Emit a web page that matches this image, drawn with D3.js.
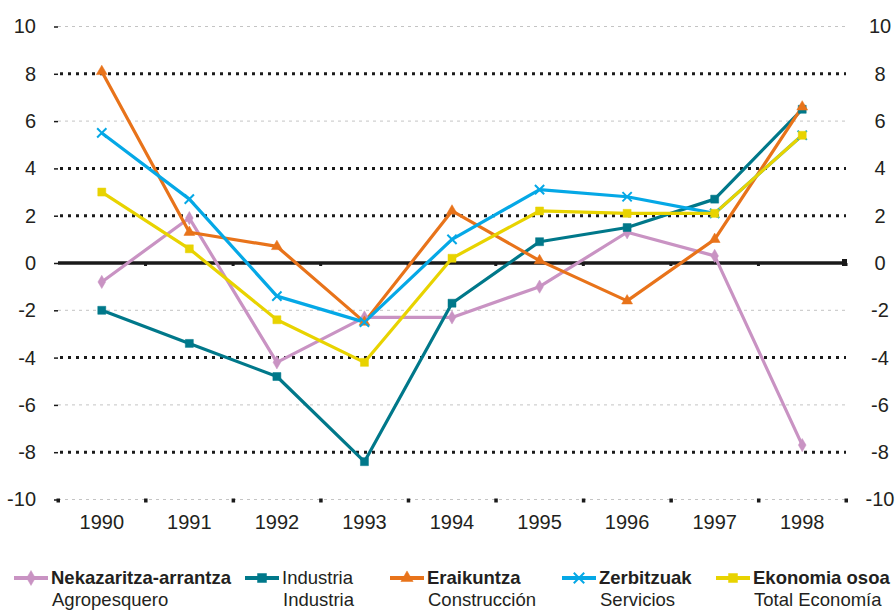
<!DOCTYPE html>
<html>
<head>
<meta charset="utf-8">
<script src="https://cdn.jsdelivr.net/npm/d3@7"></script>
<style>
  body { margin: 0; background: #fff; }
  svg { font-family: "Liberation Sans", Arial, sans-serif; }
</style>
</head>
<body>
<script>
const years = ["1990", "1991", "1992", "1993", "1994", "1995", "1996", "1997", "1998"];
const nekazaritza = [-0.8, 1.9, -4.2, -2.3, -2.3, -1.0, 1.3, 0.3, -7.7];
const industria = [-2.0, -3.4, -4.8, -8.4, -1.7, 0.9, 1.5, 2.7, 6.5];
const eraikuntza = [8.1, 1.3, 0.7, -2.5, 2.2, 0.1, -1.6, 1.0, 6.6];
const zerbitzuak = [5.5, 2.7, -1.4, -2.5, 1.0, 3.1, 2.8, 2.1, 5.4];
const ekonomia = [3.0, 0.6, -2.4, -4.2, 0.2, 2.2, 2.1, 2.1, 5.4];
const yTicks = [-10, -8, -6, -4, -2, 0, 2, 4, 6, 8, 10];
const darkGrid = [8, 4, 2, -4, -8];
const lightGrid = [10, 6, -2, -6, -10];
const seriesNames = ["Nekazaritza-arrantza", "Industria", "Eraikuntza", "Zerbitzuak", "Ekonomia osoa"];
const seriesNamesEs = ["Agropesquero", "Industria", "Construcción", "Servicios", "Total Economía"];

const w = 895, h = 612;
const plotLeft = 58, plotRight = 846, plotTop = 26.5, plotBottom = 499.5;

const series = [
  { name: seriesNames[0], es: seriesNamesEs[0], values: nekazaritza, color: "#c993c3", marker: "diamond", bold: true, lx: 14 },
  { name: seriesNames[1], es: seriesNamesEs[1], values: industria, color: "#00788a", marker: "square", bold: false, lx: 245 },
  { name: seriesNames[2], es: seriesNamesEs[2], values: eraikuntza, color: "#e8731a", marker: "triangle", bold: true, lx: 390 },
  { name: seriesNames[3], es: seriesNamesEs[3], values: zerbitzuak, color: "#05a8e6", marker: "star", bold: true, lx: 562 },
  { name: seriesNames[4], es: seriesNamesEs[4], values: ekonomia, color: "#e8d300", marker: "square", bold: true, lx: 716 }
];

const x = d3.scaleBand().domain(years).range([plotLeft, plotRight]);
const y = d3.scaleLinear().domain([-10, 10]).range([plotBottom, plotTop]);
const cx = (yr) => x(yr) + x.bandwidth() / 2;
const fmt = (d) => String(d);

const svg = d3.select("body").append("svg").attr("width", w).attr("height", h);

// gridlines
svg.selectAll(".grid-light")
  .data(lightGrid)
  .enter()
  .append("line")
  .attr("x1", plotLeft).attr("x2", plotRight)
  .attr("y1", (d) => y(d)).attr("y2", (d) => y(d))
  .attr("stroke", "#c4c4c4").attr("stroke-width", 1)
  .attr("stroke-dasharray", "3 4");

svg.selectAll(".grid-dark")
  .data(darkGrid)
  .enter()
  .append("line")
  .attr("x1", plotLeft + 2).attr("x2", plotRight)
  .attr("y1", (d) => y(d)).attr("y2", (d) => y(d))
  .attr("stroke", "#1a1a1a").attr("stroke-width", 3)
  .attr("stroke-dasharray", "3 5");

// zero line
svg.append("line")
  .attr("x1", plotLeft).attr("x2", plotRight)
  .attr("y1", y(0)).attr("y2", y(0))
  .attr("stroke", "#1a1a1a").attr("stroke-width", 3.5);

// left axis
const yLeft = svg.append("g")
  .attr("transform", `translate(${plotLeft},0)`)
  .call(d3.axisLeft(y).tickValues(yTicks).tickSize(4).tickPadding(18).tickFormat(fmt));
yLeft.select(".domain").remove();
yLeft.selectAll(".tick line").attr("stroke", "#1a1a1a").attr("stroke-width", 1.5);
yLeft.selectAll(".tick text").attr("font-size", 20).attr("fill", "#231f20")
  .attr("font-family", "Liberation Sans, Arial, sans-serif");

// right axis labels
const yRight = svg.append("g")
  .attr("transform", `translate(${plotRight},0)`)
  .call(d3.axisRight(y).tickValues(yTicks).tickSize(0).tickPadding(34).tickFormat(fmt));
yRight.select(".domain").remove();
yRight.selectAll(".tick text").attr("font-size", 20).attr("fill", "#231f20")
  .attr("text-anchor", "middle")
  .attr("font-family", "Liberation Sans, Arial, sans-serif");

// bottom axis labels
const xAxis = svg.append("g")
  .attr("transform", `translate(0,${plotBottom})`)
  .call(d3.axisBottom(x).tickSize(0).tickPadding(15));
xAxis.select(".domain").remove();
xAxis.selectAll(".tick text").attr("font-size", 20).attr("fill", "#231f20")
  .attr("font-family", "Liberation Sans, Arial, sans-serif");

// category boundary ticks
const bounds = years.map((d) => x(d)).concat([plotRight]);
svg.selectAll(".btick")
  .data(bounds)
  .enter()
  .append("rect")
  .attr("x", (d) => d - 1.5).attr("y", plotBottom - 1)
  .attr("width", 3.5).attr("height", 4)
  .attr("fill", "#1a1a1a");
svg.selectAll(".ztick")
  .data(bounds.slice(1))
  .enter()
  .append("rect")
  .attr("x", (d) => d - 1.5).attr("y", y(0))
  .attr("width", 3).attr("height", 3)
  .attr("fill", "#1a1a1a");
svg.append("rect").attr("x", plotRight - 4).attr("y", y(0) - 4).attr("width", 5).attr("height", 7).attr("fill", "#1a1a1a");

function markerPath(type, size) {
  const s = size;
  if (type === "diamond") return d3.symbol(d3.symbolDiamond, s * s * 0.8)();
  if (type === "square") return d3.symbol(d3.symbolSquare, s * s)();
  if (type === "triangle") return d3.symbol(d3.symbolTriangle, s * s * 0.8)();
  return d3.symbol(d3.symbolTimes, s * s * 0.9)();
}

const line = d3.line().x((d, i) => cx(years[i])).y((d) => y(d));

series.forEach((s) => {
  svg.append("path")
    .attr("d", line(s.values))
    .attr("fill", "none")
    .attr("stroke", s.color)
    .attr("stroke-width", 3.2)
    .attr("stroke-linejoin", "round");
});

series.forEach((s) => {
  svg.selectAll(null)
    .data(s.values)
    .enter()
    .append("path")
    .attr("transform", (d, i) => `translate(${cx(years[i])},${y(d)})`)
    .attr("d", markerPath(s.marker, 8))
    .attr("fill", s.color)
    .attr("stroke", s.color)
    .attr("stroke-width", s.marker === "star" ? 2 : 0.5);
});

// legend
const legend = svg.append("g");
series.forEach((s) => {
  const g = legend.append("g");
  g.append("line")
    .attr("x1", s.lx).attr("x2", s.lx + 34)
    .attr("y1", 578).attr("y2", 578)
    .attr("stroke", s.color).attr("stroke-width", 4);
  g.append("path")
    .attr("transform", `translate(${s.lx + 17},578)`)
    .attr("d", markerPath(s.marker, 9))
    .attr("fill", s.color)
    .attr("stroke", s.color)
    .attr("stroke-width", s.marker === "star" ? 2 : 0.5);
  g.append("text")
    .attr("x", s.lx + 37).attr("y", 584)
    .attr("font-size", 18.5)
    .attr("font-weight", s.bold ? "bold" : "normal")
    .attr("fill", "#231f20")
    .text(s.name);
  g.append("text")
    .attr("x", s.lx + 38).attr("y", 606)
    .attr("font-size", 18.5)
    .attr("fill", "#231f20")
    .text(s.es);
});
</script>
</body>
</html>
